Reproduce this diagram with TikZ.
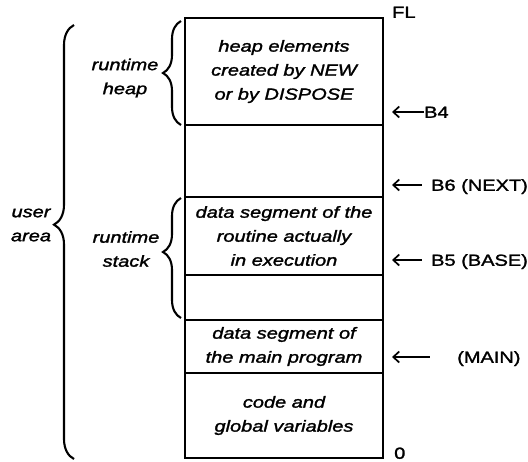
\documentclass[tikz,border=0pt]{standalone}
\usepackage{fontspec}
\setmainfont[FakeStretch=1.25, FakeBold=1.6]{Liberation Sans}
\usetikzlibrary{decorations.pathreplacing, arrows.meta}
\begin{document}
\begin{tikzpicture}[x=1pt, y=-1pt, >={Straight Barb[length=6pt, width=11pt]},
        every node/.style={inner sep=0pt, font=\fontsize{16}{24}\selectfont},
        seg/.style={draw, line width=2.2pt, minimum width=198pt, align=center, font=\fontsize{16}{24}\selectfont\itshape},
        side/.style={align=center, font=\fontsize{16}{24}\selectfont\itshape},
        ptr/.style={anchor=west, text height=11.5pt, text depth=0pt},
        brc/.style={decorate, line width=2.1pt, decoration={brace, amplitude=#1}}]
        \useasboundingbox (0,0) rectangle (528,461);
        \node[seg, minimum height=107pt] (1) at (284, 71.5) {heap elements\\created by NEW\\or by DISPOSE};
        \node[seg, minimum height=72pt] (2) at (284, 161) {};
        \node[seg, minimum height=78pt] (3) at (284, 236) {data segment of the\\routine actually\\in execution};
        \node[seg, minimum height=45pt] (4) at (284, 297.5) {};
        \node[seg, minimum height=53pt] (5) at (284, 346.5) {data segment of\\the main program};
        \node[seg, minimum height=85pt] (6) at (284, 415.5) {code and\\global variables};
        \node[side] (heap) at (125, 78) {runtime\\heap};
        \node[side] (stack) at (126, 249) {runtime\\stack};
        \node[side] (user) at (31, 225) {user\\area};
        \draw[brc=18pt, decoration={aspect=0.5}] (181, 125) -- (181, 21);
        \draw[brc=18pt, decoration={aspect=0.55}] (181, 318) -- (181, 198);
        \draw[brc=20pt, decoration={aspect=0.54}] (74, 459) -- (74, 25);
        \node[ptr] (fl) at (392, 12) {FL};
        \node[ptr] (b4) at (424, 112) {B4};
        \node[ptr] (b6) at (431, 185) {B6 (NEXT)};
        \node[ptr] (b5) at (431, 260) {B5 (BASE)};
        \node[ptr] (main) at (457, 357) {(MAIN)};
        \node[ptr] (zero) at (394, 453) {0};
        \coordinate (t4) at (392, 112);
        \coordinate (t6) at (392, 185);
        \coordinate (t5) at (392, 260);
        \coordinate (tm) at (392, 357);
        \draw[<-, line width=1.7pt] (t4) -- (b4);
        \draw[<-, line width=1.7pt, shorten >=9pt] (t6) -- (b6);
        \draw[<-, line width=1.7pt, shorten >=9pt] (t5) -- (b5);
        \draw[<-, line width=1.7pt, shorten >=27pt] (tm) -- (main);
    \end{tikzpicture}
\end{document}
